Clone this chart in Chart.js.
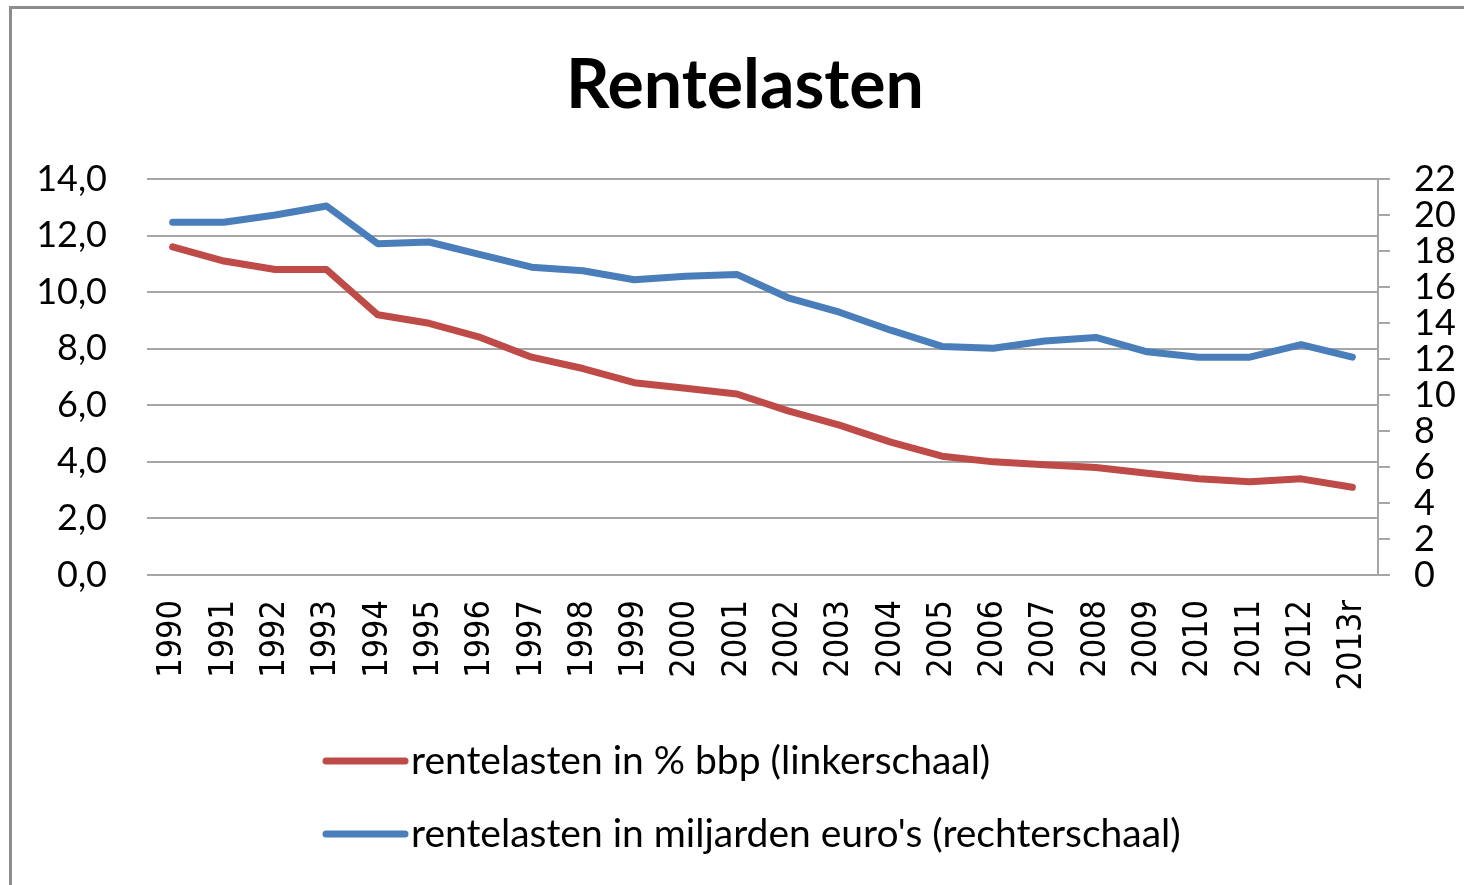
<!DOCTYPE html>
<html>
<head>
<meta charset="utf-8">
<script src="https://cdn.jsdelivr.net/npm/chart.js@4/dist/chart.umd.min.js"></script>
<style>
  html, body { margin: 0; padding: 0; background: #fff; }
  #frame { position: absolute; left: 9px; top: 6px; width: 1460px; height: 885px;
           border-left: 3px solid #8c8c8c; border-top: 3px solid #8c8c8c; }
  #wrap { position: absolute; left: 0; top: 0; width: 1464px; height: 885px; }
</style>
</head>
<body>
<div id="frame"></div>
<div id="wrap"><canvas id="chart" width="1464" height="885"></canvas></div>
<script>
const chartTitle = 'Rentelasten';
const years = ['1990','1991','1992','1993','1994','1995','1996','1997','1998','1999','2000','2001',
               '2002','2003','2004','2005','2006','2007','2008','2009','2010','2011','2012','2013r'];
// rentelasten in % bbp (left axis)
const pctBbp = [11.6, 11.1, 10.8, 10.8, 9.2, 8.9, 8.4, 7.7, 7.3, 6.8, 6.6, 6.4,
                5.8, 5.3, 4.7, 4.2, 4.0, 3.9, 3.8, 3.6, 3.4, 3.3, 3.4, 3.1];
// rentelasten in miljarden euro's (right axis)
const mrdEuro = [19.6, 19.6, 20.0, 20.5, 18.4, 18.5, 17.8, 17.1, 16.9, 16.4, 16.6, 16.7,
                 15.4, 14.6, 13.6, 12.7, 12.6, 13.0, 13.2, 12.4, 12.1, 12.1, 12.8, 12.1];
const seriesNames = ['rentelasten in % bbp (linkerschaal)', "rentelasten in miljarden euro's (rechterschaal)"];
const leftMax = 14, rightMax = 22, tickStep = 2;

const RED = '#be4b48';
const BLUE = '#4a7ebb';
const GRID = '#a6a6a6';

// title + legend drawn by hand so they sit where the original has them
const decorPlugin = {
  id: 'decor',
  afterDraw(chart) {
    const ctx = chart.ctx;
    ctx.save();
    ctx.fillStyle = '#000';
    ctx.font = 'bold 68px Lato';
    ctx.textAlign = 'center';
    ctx.textBaseline = 'middle';
    ctx.fillText(chartTitle, 745, 86);

    const rows = [761, 834];
    ctx.font = '39px Lato';
    ctx.textAlign = 'left';
    chart.data.datasets.forEach((ds, i) => {
      const y = rows[i];
      ctx.strokeStyle = ds.borderColor;
      ctx.lineWidth = 7;
      ctx.lineCap = 'round';
      ctx.beginPath();
      ctx.moveTo(326, y);
      ctx.lineTo(405, y);
      ctx.stroke();
      ctx.fillText(ds.label, 411, y);
    });
    ctx.restore();
  }
};

const ctx = document.getElementById('chart').getContext('2d');
new Chart(ctx, {
  type: 'line',
  data: {
    labels: years,
    datasets: [{
      label: seriesNames[0],
      data: pctBbp,
      yAxisID: 'y',
      borderColor: RED,
      borderWidth: 7,
      borderJoinStyle: 'round',
      borderCapStyle: 'round',
      pointRadius: 0,
      tension: 0
    }, {
      label: seriesNames[1],
      data: mrdEuro,
      yAxisID: 'y1',
      borderColor: BLUE,
      borderWidth: 7,
      borderJoinStyle: 'round',
      borderCapStyle: 'round',
      pointRadius: 0,
      tension: 0
    }]
  },
  options: {
    responsive: false,
    animation: false,
    devicePixelRatio: 1,
    layout: { padding: { top: 179, left: 0, right: 0, bottom: 0 } },
    plugins: {
      legend: { display: false },
      title: { display: false },
      tooltip: { enabled: false }
    },
    scales: {
      x: {
        offset: true,
        grid: { display: false },
        border: { display: false },
        ticks: {
          autoSkip: false,
          minRotation: 90,
          maxRotation: 90,
          padding: 17,
          color: '#000',
          font: { family: 'DejaVu Sans Condensed', size: 34 }
        },
        afterFit(s) { s.height = 310; }
      },
      y: {
        position: 'left',
        min: 0,
        max: leftMax,
        grid: { color: GRID, lineWidth: 2, drawTicks: false },
        border: { display: false },
        ticks: {
          stepSize: tickStep,
          autoSkip: false,
          padding: 40,
          color: '#000',
          font: { family: 'Lato', size: 36 },
          callback: (v) => v.toFixed(1).replace('.', ',')
        },
        afterFit(s) { s.width = 147; }
      },
      y1: {
        position: 'right',
        min: 0,
        max: rightMax,
        grid: { drawOnChartArea: false, color: GRID, lineWidth: 2, tickLength: 12 },
        border: { display: true, color: GRID, width: 2 },
        ticks: {
          stepSize: tickStep,
          autoSkip: false,
          padding: 24,
          color: '#000',
          font: { family: 'Lato', size: 36 }
        },
        afterFit(s) { s.width = 86; }
      }
    }
  },
  plugins: [decorPlugin]
});
</script>
</body>
</html>
